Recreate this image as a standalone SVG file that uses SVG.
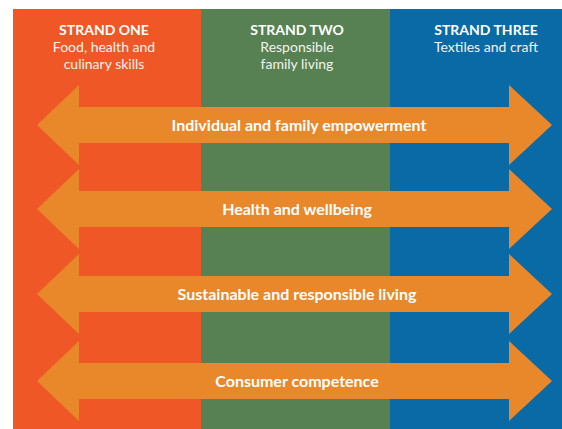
<svg xmlns="http://www.w3.org/2000/svg" width="562" height="429" viewBox="0 0 562 429">
<style>
.hd{font-family:Lato,"Open Sans",sans-serif;font-weight:700;font-size:14px;fill:#fff;text-anchor:middle}
.sub{font-family:Lato,"Open Sans",sans-serif;font-weight:400;font-size:14px;fill:#f3f3ee;text-anchor:middle}
.lbl{font-family:Lato,"Open Sans",sans-serif;font-weight:700;font-size:16px;fill:#fff;text-anchor:middle}
.arr{fill:#E8882A}
</style>
<defs>
<path id="arrow" d="M37,0 L79,-40 L79,-18 L509,-18 L509,-40 L552,0 L509,40 L509,18 L79,18 L79,40 Z"/>
</defs>
<rect width="562" height="429" fill="#fff"/>
<g id="strand-one">
<rect x="13" y="9" width="188" height="420" fill="#EF5826"/>
<text class="hd" x="104" y="35">STRAND ONE</text>
<text class="sub" x="104" y="52">Food, health and</text>
<text class="sub" x="104" y="69">culinary skills</text>
</g>
<g id="strand-two">
<rect x="201" y="9" width="189" height="420" fill="#578152"/>
<text class="hd" x="297" y="35">STRAND TWO</text>
<text class="sub" x="297" y="52">Responsible</text>
<text class="sub" x="297" y="69">family living</text>
</g>
<g id="strand-three">
<rect x="390" y="9" width="172" height="420" fill="#0A6AA6"/>
<text class="hd" x="486" y="35">STRAND THREE</text>
<text class="sub" x="486" y="52">Textiles and craft</text>
</g>
<g id="connectors">
<g id="arrow-1"><use href="#arrow" class="arr" transform="translate(0,125)"/><text class="lbl" x="299" y="131">Individual and family empowerment</text></g>
<g id="arrow-2"><use href="#arrow" class="arr" transform="translate(0,209)"/><text class="lbl" x="297" y="215">Health and wellbeing</text></g>
<g id="arrow-3"><use href="#arrow" class="arr" transform="translate(0,294)"/><text class="lbl" x="297" y="300">Sustainable and responsible living</text></g>
<g id="arrow-4"><use href="#arrow" class="arr" transform="translate(0,381)"/><text class="lbl" x="297" y="387">Consumer competence</text></g>
</g>
</svg>
